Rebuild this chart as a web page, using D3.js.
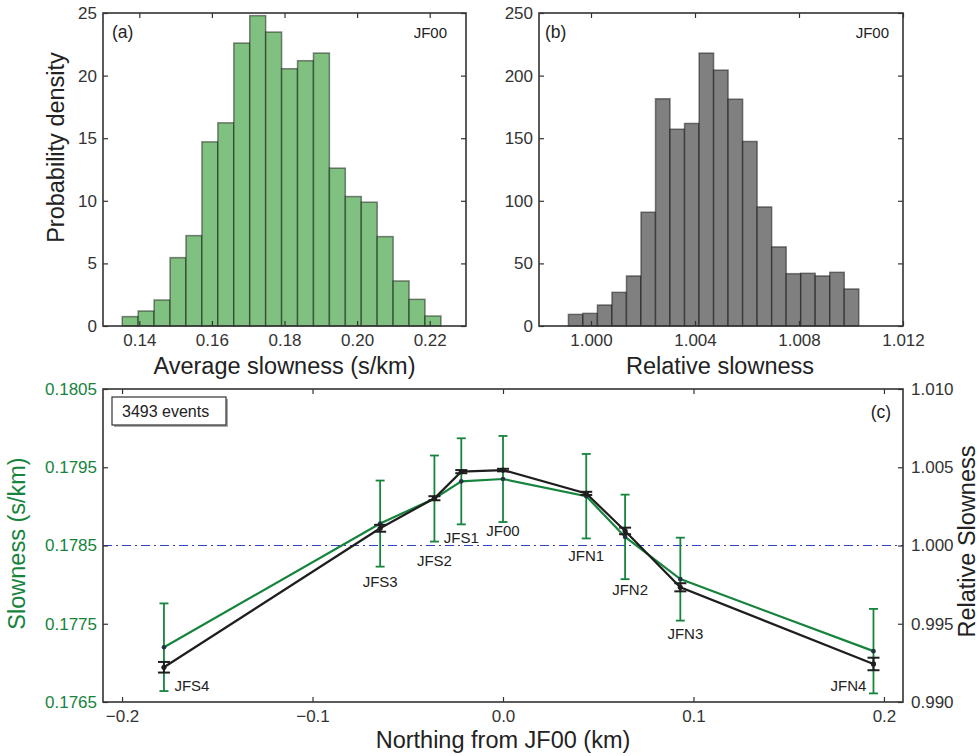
<!DOCTYPE html>
<html>
<head>
<meta charset="utf-8">
<script src="https://cdn.jsdelivr.net/npm/d3@7"></script>
<style>
body { margin: 0; background: #fff; }
text { font-family: "Liberation Sans", Arial, sans-serif; }
</style>
</head>
<body>
<svg id="chart" width="980" height="756"></svg>
<script>
// (a) average slowness histogram
var slownessBinRange = [0.1353, 0.2231];
var slownessDensity = [0.75, 1.2, 2.08, 5.46, 7.22, 14.71, 16.23, 22.6, 24.79, 23.48,
                       20.55, 21.19, 21.8, 12.61, 10.34, 9.89, 7.14, 3.6, 2.13, 0.8];
var slownessTicks = [0.14, 0.16, 0.18, 0.20, 0.22];
var densityTicks = [0, 5, 10, 15, 20, 25];

// (b) relative slowness histogram
var relBinRange = [0.99913, 1.0103];
var relCounts = [9.3, 10.1, 16.8, 26.9, 40, 90.9, 181.5, 157.2, 161.8, 218,
                 204.4, 181.2, 147.4, 95.1, 63.2, 41.8, 42.1, 40, 42.9, 29.6];
var relTicks = [1.000, 1.004, 1.008, 1.012];
var countTicks = [0, 50, 100, 150, 200, 250];

// (c) slowness along the line of stations
var stations = ['JFS4', 'JFS3', 'JFS2', 'JFS1', 'JF00', 'JFN1', 'JFN2', 'JFN3', 'JFN4'];
var northing = [-0.178, -0.0645, -0.036, -0.0219, 0.0, 0.0437, 0.0641, 0.0931, 0.1945];
var slowness = [0.17720, 0.17878, 0.17910, 0.17932, 0.17935, 0.17913, 0.17861, 0.17807, 0.17715];
var slownessErr = [0.00056, 0.00055, 0.00055, 0.00055, 0.00055, 0.00054, 0.00054, 0.00053, 0.00054];
var relSlowness = [0.99222, 1.00110, 1.00302, 1.00472, 1.00482, 1.00333, 1.00093, 0.99733, 0.99243];
var relErr = [0.00034, 0.00022, 0.00013, 0.0001, 0.00008, 0.0001, 0.00021, 0.00026, 0.0004];
var northingTicks = [-0.2, -0.1, 0.0, 0.1, 0.2];
var slownessAxisTicks = [0.1765, 0.1775, 0.1785, 0.1795, 0.1805];
var relAxisTicks = [0.990, 0.995, 1.000, 1.005, 1.010];
var eventCount = 3493;

// label placement next to each station (pixels from the green point)
var labelShift = {
    JFS4: [28, 38], JFS3: [0, 58], JFS2: [0, 62], JFS1: [0, 56], JF00: [0, 52],
    JFN1: [0, 59], JFN2: [5, 53], JFN3: [5, 54], JFN4: [-25, 34]
};

var green = '#16843d';
var spine = '#333';
var titleSize = 23.5;
var svg = d3.select('#chart');

function minusFmt(f) {
    var g = d3.format(f);
    return function (d) { return g(d).replace('-', '\u2212'); };
}

function styleAxis(sel, size, color) {
    sel.select('.domain').remove();
    sel.attr('color', color || spine);
    sel.selectAll('.tick line').attr('stroke', spine).attr('stroke-width', 1.2);
    sel.selectAll('.tick text')
       .attr('font-family', '"Liberation Sans", Arial, sans-serif')
       .attr('font-size', size);
}

function frame(g, x, y, w, h, o) {
    g.append('g')
        .attr('transform', `translate(0,${h})`)
        .call(d3.axisBottom(x).tickValues(o.xt).tickFormat(o.xf).tickSize(-5).tickPadding(8))
        .call(styleAxis, o.fs);
    g.append('g')
        .call(d3.axisTop(x).tickValues(o.xt).tickFormat('').tickSize(-5))
        .call(styleAxis, o.fs);
    g.append('g')
        .call(d3.axisLeft(y).tickValues(o.yt).tickFormat(o.yf).tickSize(-5).tickPadding(6))
        .call(styleAxis, o.fs, o.leftColor);
    g.append('g')
        .attr('transform', `translate(${w},0)`)
        .call(d3.axisRight(o.y2 || y).tickValues(o.y2t || o.yt).tickFormat(o.y2f || '').tickSize(-5).tickPadding(8))
        .call(styleAxis, o.fs);
    g.append('rect')
        .attr('width', w)
        .attr('height', h)
        .attr('fill', 'none')
        .attr('stroke', spine)
        .attr('stroke-width', 1.6);
}

function histogram(g, values, range, x, y, fill) {
    var step = (range[1] - range[0]) / values.length;
    g.selectAll('rect.bar')
        .data(values)
        .enter()
        .append('rect')
            .attr('class', 'bar')
            .attr('x', function (d, i) { return x(range[0] + i * step); })
            .attr('width', function (d, i) { return x(range[0] + (i + 1) * step) - x(range[0] + i * step); })
            .attr('y', function (d) { return y(d); })
            .attr('height', function (d) { return y(0) - y(d); })
            .attr('fill', fill)
            .attr('stroke', 'rgba(0,0,0,0.45)')
            .attr('stroke-width', 1.5);
}

function label(g, txt, x, y, size, anchor, rot, color) {
    var t = g.append('text')
        .attr('x', x)
        .attr('y', y)
        .attr('font-size', size)
        .attr('text-anchor', anchor || 'middle')
        .attr('dominant-baseline', 'central')
        .attr('fill', color || '#222')
        .text(txt);
    if (rot) {
        t.attr('transform', `rotate(${rot},${x},${y})`);
    }
    return t;
}

// ---- panel (a)
var aw = 363, ah = 313;
var ga = svg.append('g').attr('transform', 'translate(103,13)');
var xa = d3.scaleLinear().domain([0.13, 0.23]).range([0, aw]);
var ya = d3.scaleLinear().domain([0, 25]).range([ah, 0]);
histogram(ga, slownessDensity, slownessBinRange, xa, ya, '#80c080');
frame(ga, xa, ya, aw, ah, { xt: slownessTicks, xf: d3.format('.2f'), yt: densityTicks, yf: d3.format('d'), fs: 17 });
label(ga, '(a)', 9, 19, 17.5, 'start');
label(ga, 'JF00', aw - 19, 19, 15, 'end');
label(ga, 'Average slowness (s/km)', aw / 2, ah + 40, titleSize);
label(ga, 'Probability density', -47, ah / 2 - 22, titleSize, 'middle', -90);

// ---- panel (b)
var bw = 364, bh = 313;
var gb = svg.append('g').attr('transform', 'translate(539,13)');
var xb = d3.scaleLinear().domain([0.998, 1.012]).range([0, bw]);
var yb = d3.scaleLinear().domain([0, 250]).range([bh, 0]);
histogram(gb, relCounts, relBinRange, xb, yb, '#808080');
frame(gb, xb, yb, bw, bh, { xt: relTicks, xf: d3.format('.3f'), yt: countTicks, yf: d3.format('d'), fs: 17 });
label(gb, '(b)', 6, 19, 17.5, 'start');
label(gb, 'JF00', bw - 14, 19, 15, 'end');
label(gb, 'Relative slowness', bw / 2 - 1, bh + 40, titleSize);

// ---- panel (c)
var cw = 800, ch = 313;
var gc = svg.append('g').attr('transform', 'translate(103,389)');
var xc = d3.scaleLinear().domain([-0.21, 0.21]).range([0, cw]);
var yc = d3.scaleLinear().domain([0.1765, 0.1805]).range([ch, 0]);
var yr = d3.scaleLinear().domain([0.990, 1.010]).range([ch, 0]);

gc.append('line')
    .attr('x1', 0)
    .attr('x2', cw)
    .attr('y1', yr(1.0))
    .attr('y2', yr(1.0))
    .attr('stroke', '#2f45c0')
    .attr('stroke-width', 1.2)
    .attr('stroke-dasharray', '9,4,2,4');

var pts = stations.map(function (s, i) {
    return { name: s, x: northing[i], s: slowness[i], se: slownessErr[i], r: relSlowness[i], re: relErr[i] };
});

// green error bars
var eg = gc.append('g').attr('stroke', green).attr('stroke-width', 1.8);
pts.forEach(function (d) {
    var px = xc(d.x);
    eg.append('line').attr('x1', px).attr('x2', px).attr('y1', yc(d.s - d.se)).attr('y2', yc(d.s + d.se));
    eg.append('line').attr('x1', px - 4.5).attr('x2', px + 4.5).attr('y1', yc(d.s - d.se)).attr('y2', yc(d.s - d.se));
    eg.append('line').attr('x1', px - 4.5).attr('x2', px + 4.5).attr('y1', yc(d.s + d.se)).attr('y2', yc(d.s + d.se));
});

var lineG = d3.line().x(function (d) { return xc(d.x); }).y(function (d) { return yc(d.s); });
var lineR = d3.line().x(function (d) { return xc(d.x); }).y(function (d) { return yr(d.r); });

gc.append('path')
    .attr('d', lineG(pts))
    .attr('fill', 'none')
    .attr('stroke', green)
    .attr('stroke-width', 2.2);
gc.selectAll('circle.g')
    .data(pts)
    .enter()
    .append('circle')
        .attr('class', 'g')
        .attr('cx', function (d) { return xc(d.x); })
        .attr('cy', function (d) { return yc(d.s); })
        .attr('r', 2.3)
        .attr('fill', '#234');

gc.append('path')
    .attr('d', lineR(pts))
    .attr('fill', 'none')
    .attr('stroke', '#1e1e1e')
    .attr('stroke-width', 2.2);

// black error bars
var ek = gc.append('g').attr('stroke', '#1e1e1e').attr('stroke-width', 2);
pts.forEach(function (d) {
    var px = xc(d.x);
    ek.append('line').attr('x1', px).attr('x2', px).attr('y1', yr(d.r - d.re)).attr('y2', yr(d.r + d.re));
    ek.append('line').attr('x1', px - 6).attr('x2', px + 6).attr('y1', yr(d.r - d.re)).attr('y2', yr(d.r - d.re));
    ek.append('line').attr('x1', px - 6).attr('x2', px + 6).attr('y1', yr(d.r + d.re)).attr('y2', yr(d.r + d.re));
});
gc.selectAll('circle.k')
    .data(pts)
    .enter()
    .append('circle')
        .attr('class', 'k')
        .attr('cx', function (d) { return xc(d.x); })
        .attr('cy', function (d) { return yr(d.r); })
        .attr('r', 2.6)
        .attr('fill', '#1e1e1e');

pts.forEach(function (d) {
    var sh = labelShift[d.name];
    label(gc, d.name, xc(d.x) + sh[0], yc(d.s) + sh[1], 15);
});

frame(gc, xc, yc, cw, ch, {
    xt: northingTicks, xf: minusFmt('.1f'),
    yt: slownessAxisTicks, yf: d3.format('.4f'), leftColor: green,
    y2: yr, y2t: relAxisTicks, y2f: d3.format('.3f'),
    fs: 17
});

// legend box
gc.append('rect').attr('x', 11).attr('y', 10).attr('width', 114).attr('height', 28).attr('fill', '#aaa');
gc.append('rect').attr('x', 9).attr('y', 8).attr('width', 114).attr('height', 28)
    .attr('fill', '#fff').attr('stroke', spine).attr('stroke-width', 1.2);
label(gc, eventCount + ' events', 19, 22, 16, 'start');
label(gc, '(c)', cw - 22, 23, 17.5);

label(gc, 'Northing from JF00 (km)', cw / 2, ch + 38, titleSize);
label(gc, 'Slowness (s/km)', -86, ch / 2 - 2, titleSize, 'middle', -90, green);
label(gc, 'Relative Slowness', cw + 64, ch / 2 - 4, titleSize, 'middle', -90);
</script>
</body>
</html>
